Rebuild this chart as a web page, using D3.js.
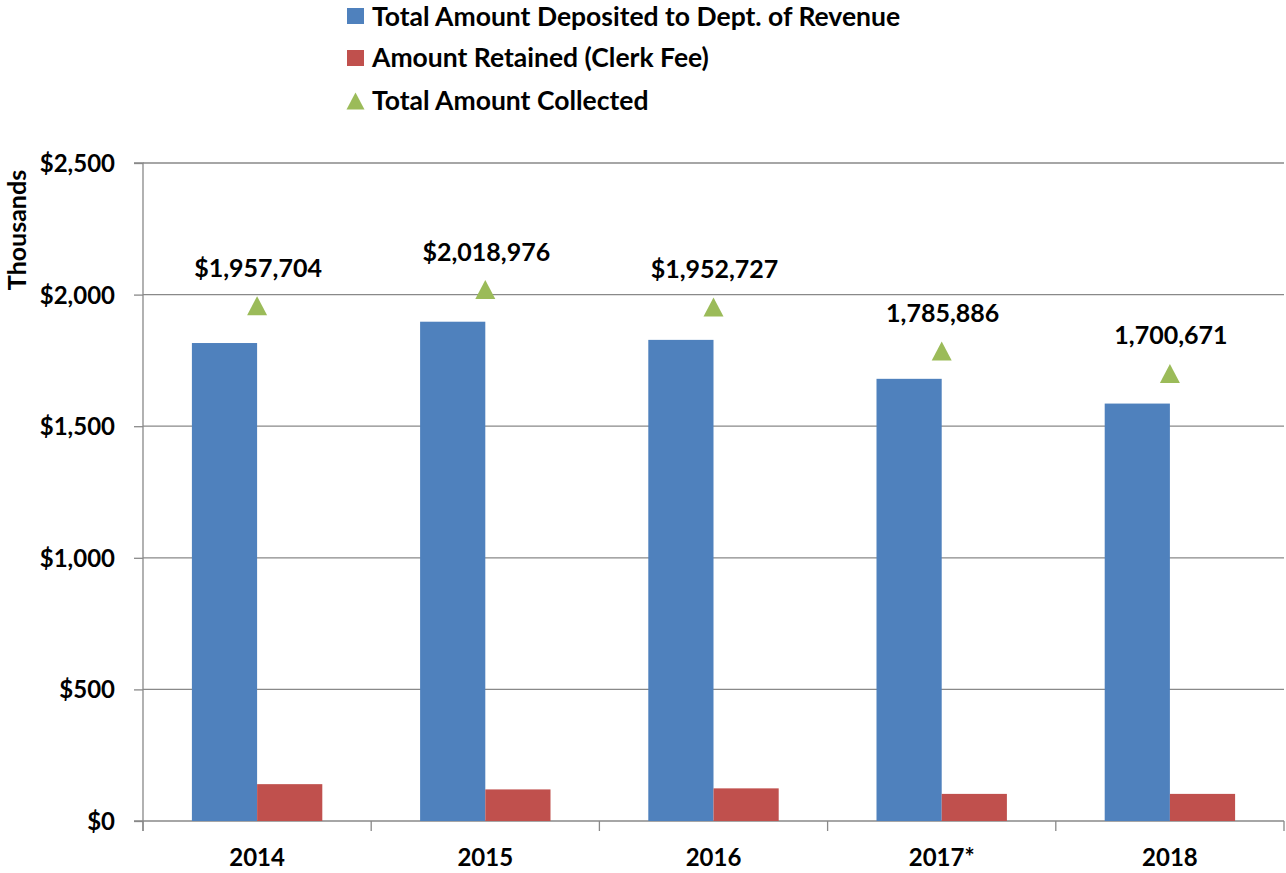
<!DOCTYPE html>
<html>
<head>
<meta charset="utf-8">
<script src="https://cdn.jsdelivr.net/npm/d3@7"></script>
<style>
  html, body { margin: 0; padding: 0; background: #fff; }
  svg text { font-family: Lato, "Open Sans", sans-serif; font-weight: bold; fill: #000; }
</style>
</head>
<body>
<svg id="chart" width="1286" height="873"></svg>
<script>
const categories = ["2014", "2015", "2016", "2017*", "2018"];
const deposited = [1816, 1897, 1828, 1680, 1586];
const retained = [140, 120, 124, 103, 103];
const collected = [1957.704, 2018.976, 1952.727, 1785.886, 1700.671];
const collectedLabels = ["$1,957,704", "$2,018,976", "$1,952,727", "1,785,886", "1,700,671"];
const yTicks = [0, 500, 1000, 1500, 2000, 2500];
const yTickLabels = ["$0", "$500", "$1,000", "$1,500", "$2,000", "$2,500"];
const seriesNames = ["Total Amount Deposited to Dept. of Revenue", "Amount Retained (Clerk Fee)", "Total Amount Collected"];
const colors = ["#4F81BD", "#C0504D", "#9BBB59"];

const svg = d3.select("#chart");
const margin = { left: 143, right: 2, top: 163, bottom: 52 };
const W = 1286, H = 873;
const plotL = margin.left, plotR = W - margin.right, plotT = margin.top, plotB = H - margin.bottom;

const x = d3.scaleBand().domain(categories).range([plotL, plotR]).paddingInner(0).paddingOuter(0);
const inner = d3.scaleBand().domain([0, 1]).range([0, x.bandwidth()]).paddingInner(0).paddingOuter(0.75);
const y = d3.scaleLinear().domain([0, 2500]).range([plotB, plotT]);

const gridColor = "#898989";

// gridlines
svg.append("g").selectAll("line").data(yTicks.filter(d => d > 0)).join("line")
  .attr("x1", plotL).attr("x2", plotR)
  .attr("y1", d => y(d)).attr("y2", d => y(d))
  .attr("stroke", gridColor).attr("stroke-width", 1.3);

// y axis
const yAxis = d3.axisLeft(y).tickValues(yTicks).tickSize(9).tickPadding(19)
  .tickFormat((d, i) => yTickLabels[i]);
const gy = svg.append("g").attr("transform", `translate(${plotL},0)`).call(yAxis);
gy.select(".domain").attr("stroke", gridColor).attr("stroke-width", 1.3).attr("d", `M-9,${plotT}H0V${plotB + 10}`);
gy.selectAll(".tick line").attr("stroke", gridColor).attr("stroke-width", 1.3);
gy.selectAll(".tick text").style("font-size", "24px").style("font-family", "Lato, sans-serif").style("font-weight", "bold").attr("fill", "#000").attr("dy", "0.35em");

// x axis
const gx = svg.append("g").attr("transform", `translate(0,${plotB})`);
gx.append("line").attr("x1", plotL - 9).attr("x2", plotR).attr("y1", 0).attr("y2", 0)
  .attr("stroke", gridColor).attr("stroke-width", 1.3);
const boundaries = categories.map(c => x(c)).concat([x(categories[categories.length - 1]) + x.bandwidth()]);
gx.selectAll("line.tk").data(boundaries).join("line").attr("class", "tk")
  .attr("x1", d => d).attr("x2", d => d).attr("y1", 0).attr("y2", 10)
  .attr("stroke", gridColor).attr("stroke-width", 1.3);
gx.selectAll("text").data(categories).join("text")
  .attr("x", d => x(d) + x.bandwidth() / 2).attr("y", 45)
  .attr("text-anchor", "middle").style("font-size", "24px").text(d => d);

// bars
const bars = svg.append("g");
bars.selectAll("rect.dep").data(categories).join("rect").attr("class", "dep")
  .attr("x", d => x(d) + inner(0)).attr("width", inner.bandwidth())
  .attr("y", (d, i) => y(deposited[i])).attr("height", (d, i) => plotB - y(deposited[i]))
  .attr("fill", colors[0]);
bars.selectAll("rect.ret").data(categories).join("rect").attr("class", "ret")
  .attr("x", d => x(d) + inner(1)).attr("width", inner.bandwidth())
  .attr("y", (d, i) => y(retained[i])).attr("height", (d, i) => plotB - y(retained[i]))
  .attr("fill", colors[1]);

// triangles
function tri(cx, cy, w, h) {
  return `M${cx - w / 2},${cy + h / 2}L${cx + w / 2},${cy + h / 2}L${cx},${cy - h / 2}Z`;
}
const marks = svg.append("g");
marks.selectAll("path").data(categories).join("path")
  .attr("d", (d, i) => tri(x(d) + x.bandwidth() / 2, y(collected[i]), 20, 19))
  .attr("fill", colors[2]);
marks.selectAll("text").data(categories).join("text")
  .attr("x", d => x(d) + x.bandwidth() / 2 + 1)
  .attr("y", (d, i) => y(collected[i]) - 29)
  .attr("text-anchor", "middle").style("font-size", "25px")
  .text((d, i) => collectedLabels[i]);

// y title
svg.append("text").attr("transform", `translate(25.5,230) rotate(-90)`)
  .attr("text-anchor", "middle").style("font-size", "25px").text("Thousands");

// legend
const legendBase = [26, 67, 110];
const legendMid = [16, 58, 101];
const lg = svg.append("g");
lg.selectAll("text").data(seriesNames).join("text")
  .attr("x", 372).attr("y", (d, i) => legendBase[i])
  .style("font-size", "26.5px").text(d => d);
lg.append("rect").attr("x", 347).attr("y", legendMid[0] - 8).attr("width", 17).attr("height", 16).attr("fill", colors[0]);
lg.append("rect").attr("x", 347).attr("y", legendMid[1] - 8).attr("width", 17).attr("height", 16).attr("fill", colors[1]);
lg.append("path").attr("d", tri(355.5, legendMid[2], 18, 17)).attr("fill", colors[2]);
</script>
</body>
</html>
